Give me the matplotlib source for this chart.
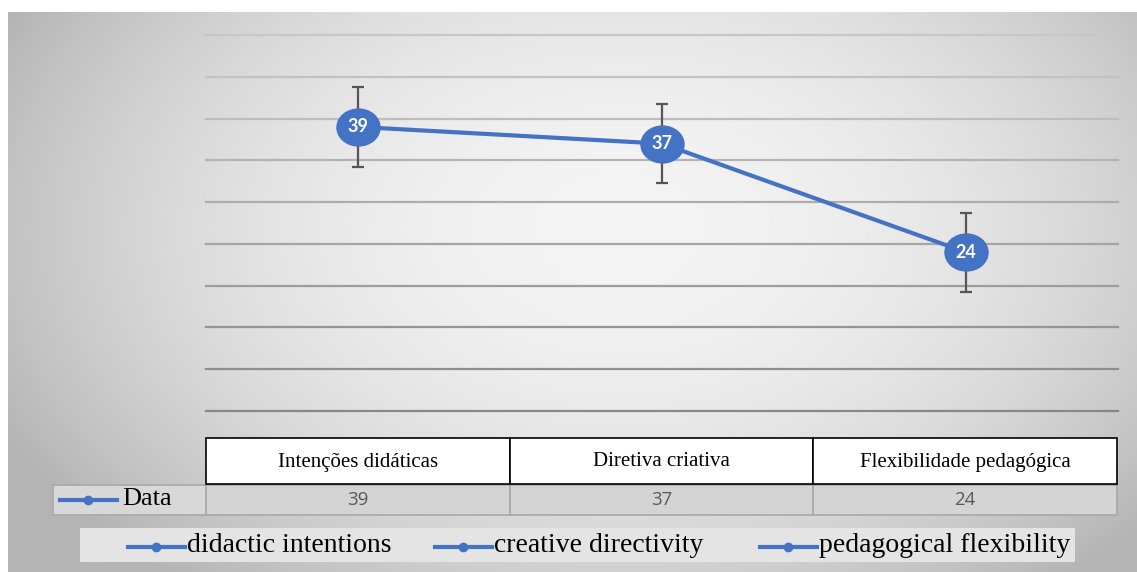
import numpy as np
import matplotlib
matplotlib.use("Agg")
import matplotlib.pyplot as plt
from matplotlib.patches import Rectangle
from matplotlib.lines import Line2D
from matplotlib.path import Path

# ---- data ----
categories = ["Intenções didáticas", "Diretiva criativa", "Flexibilidade pedagógica"]
values = [39, 37, 24]
errors = [4.75, 4.75, 4.75]
series_name = "Data"
legend_labels = ["didactic intentions", "creative directivity", "pedagogical flexibility"]
y_ticks = [5, 10, 15, 20, 25, 30, 35, 40, 45, 50]

BLUE = "#4472C4"
W, H = 1137, 572
fig = plt.figure(figsize=(W / 100, H / 100), dpi=100)

# overlay in pixel coordinates
ov = fig.add_axes([0, 0, 1, 1], zorder=0)
ov.set_xlim(0, W)
ov.set_ylim(H, 0)
ov.axis("off")

# radial gradient background
xx, yy = np.meshgrid(np.linspace(8, W, 400), np.linspace(12, H, 200))
d2 = ((xx - 620) / 640) ** 2 + ((yy - 230) / 420) ** 2
g = np.clip(244 - 54 * d2, 180, 246) / 255.0
img = np.dstack([g, g, g])
ov.imshow(img, extent=(8, W, H, 12), aspect="auto", interpolation="bilinear", zorder=0)

# main axes
L, R, T, B = 206, 1118, 35, 411
ax = fig.add_axes([L / W, 1 - B / H, (R - L) / W, (B - T) / H], zorder=2)
ax.patch.set_alpha(0)
x = np.arange(len(categories))
ax.set_xlim(-0.5, len(categories) - 0.5)
ax.set_ylim(min(y_ticks), max(y_ticks))
for sp in ax.spines.values():
    sp.set_visible(False)
ax.set_xticks([])
ax.set_yticks([])
grid_cols = plt.cm.Greys(np.linspace(0.55, 0.33, len(y_ticks)))
for yt, c in zip(y_ticks, grid_cols):
    ax.axhline(yt, color=c, lw=1.6, zorder=1, clip_on=False)

ax.errorbar(x, values, yerr=errors, fmt="none", ecolor="#555555",
            elinewidth=1.6, capsize=4.3, capthick=1.6, zorder=3)
ax.plot(x, values, color=BLUE, lw=3.0, zorder=4, solid_capstyle="round")
uc = Path.unit_circle()
ell = Path(uc.vertices * np.array([1.16, 1.0]), uc.codes)
ax.plot(x, values, ls="none", marker=ell, markersize=32, color=BLUE,
        markeredgewidth=0, zorder=5)
for xi, v in zip(x, values):
    ax.text(xi, v, f"{v}", color="white", fontsize=13, fontweight="bold",
            family="Lato", ha="center", va="center", zorder=6)

# ---- data table ----
col_edges = np.linspace(206, 1117, len(categories) + 1)
for i, cat in enumerate(categories):
    x0, x1 = col_edges[i], col_edges[i + 1]
    ov.add_patch(Rectangle((x0, 438), x1 - x0, 46, facecolor="white",
                           edgecolor="black", lw=1.2, zorder=3))
    ov.text((x0 + x1) / 2, 462, cat, family="Liberation Serif", fontsize=15,
            ha="center", va="center", color="black", zorder=4)
    ov.add_patch(Rectangle((x0, 485), x1 - x0, 30, facecolor="#d4d4d4",
                           edgecolor="#a8a8a8", lw=1.2, zorder=2))
    ov.text((x0 + x1) / 2, 500, f"{values[i]}", family="Open Sans", fontsize=13.5,
            ha="center", va="center", color="#595959", zorder=4)
ov.add_patch(Rectangle((53, 485), 153, 30, facecolor="#d8d8d8",
                       edgecolor="#a8a8a8", lw=1.2, zorder=2))
ov.add_line(Line2D([60, 117], [500, 500], color=BLUE, lw=3.0, zorder=4))
ov.add_line(Line2D([88], [500], color=BLUE, marker="o", markersize=6, zorder=5))
ov.text(122, 499, series_name, family="Liberation Serif", fontsize=19,
        ha="left", va="center", color="black", zorder=4)

# ---- legend ----
ov.add_patch(Rectangle((80, 528), 995, 34, facecolor="#e4e4e4",
                       edgecolor="none", zorder=2))
key_x = [128, 435, 760]
for kx, lab in zip(key_x, legend_labels):
    ov.add_line(Line2D([kx, kx + 57], [547, 547], color=BLUE, lw=3.0, zorder=4))
    ov.add_line(Line2D([kx + 28], [547], color=BLUE, marker="o", markersize=6, zorder=5))
    ov.text(kx + 59, 546, lab, family="Liberation Serif", fontsize=20,
            ha="left", va="center", color="black", zorder=4)

fig.savefig("out.png", dpi=100)
